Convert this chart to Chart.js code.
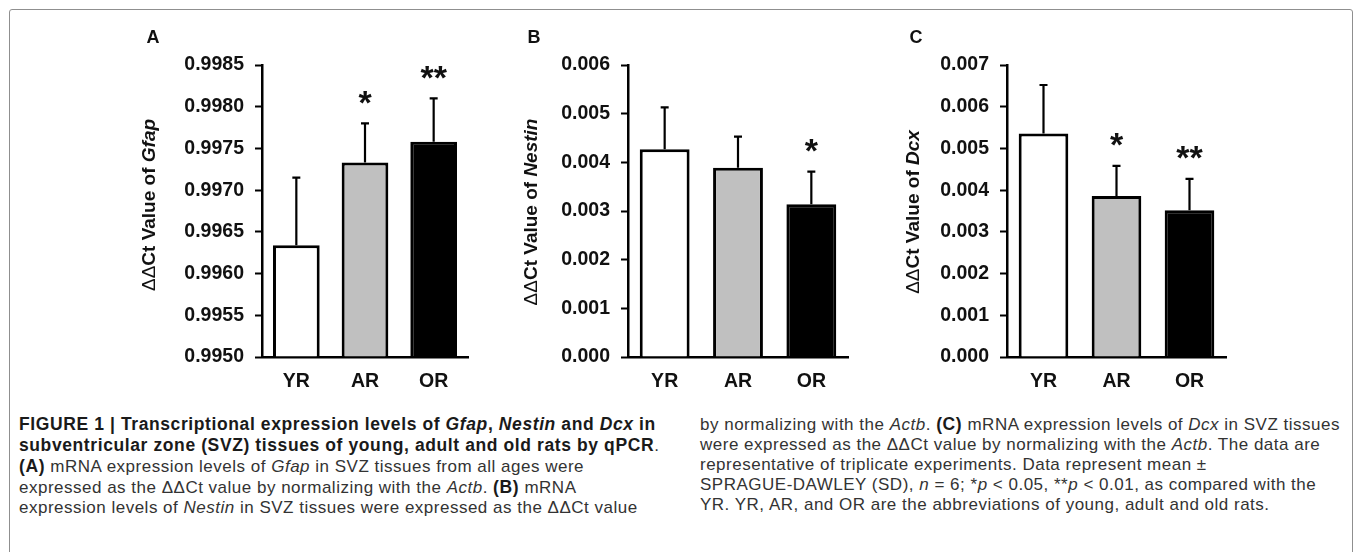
<!DOCTYPE html>
<html>
<head>
<meta charset="utf-8">
<script src="https://cdn.jsdelivr.net/npm/chart.js@4.4.0/dist/chart.umd.min.js"></script>
<style>
  html, body { margin: 0; padding: 0; background: #fff; }
  #page { position: relative; width: 1355px; height: 552px; overflow: hidden; font-family: "Liberation Sans", Arial, sans-serif; }
  #frame { position: absolute; left: 9px; top: 9px; width: 1344px; height: 620px; border: 1.5px solid #8f8f8f; border-radius: 3px; box-sizing: border-box; }
  canvas.panel { position: absolute; top: 0; }
  .cap { position: absolute; top: 414px; font-size: 17px; line-height: 20px; color: #333; white-space: nowrap; letter-spacing: 0.5px; }
  .cap b { color: #1a1a1a; font-size: 17.5px; letter-spacing: 0.6px; }
</style>
</head>
<body>
<div id="page">
  <div id="frame"></div>
  <canvas id="chartA" class="panel" width="370" height="410" style="left:120px"></canvas>
  <canvas id="chartB" class="panel" width="370" height="410" style="left:500px"></canvas>
  <canvas id="chartC" class="panel" width="370" height="410" style="left:880px"></canvas>

  <div class="cap" style="left:19px">
    <b>FIGURE 1 | Transcriptional expression levels of <i>Gfap</i>, <i>Nestin</i> and <i>Dcx</i> in</b><br>
    <b>subventricular zone (SVZ) tissues of young, adult and old rats by qPCR</b>.<br>
    <b>(A)</b> mRNA expression levels of <i>Gfap</i> in SVZ tissues from all ages were<br>
    expressed as the ΔΔCt value by normalizing with the <i>Actb</i>. <b>(B)</b> mRNA<br>
    expression levels of <i>Nestin</i> in SVZ tissues were expressed as the ΔΔCt value
  </div>
  <div class="cap" style="left:700px">
    by normalizing with the <i>Actb</i>. <b>(C)</b> mRNA expression levels of <i>Dcx</i> in SVZ tissues<br>
    were expressed as the ΔΔCt value by normalizing with the <i>Actb</i>. The data are<br>
    representative of triplicate experiments. Data represent mean ±<br>
    SPRAGUE-DAWLEY (SD), <i>n</i> = 6; *<i>p</i> &lt; 0.05, **<i>p</i> &lt; 0.01, as compared with the<br>
    YR. YR, AR, and OR are the abbreviations of young, adult and old rats.
  </div>
</div>

<script>
const FONT = '"Liberation Sans", Arial, sans-serif';

// groups and bar fills
const categories = ['YR', 'AR', 'OR'];
const barColors = ['#ffffff', '#c0c0c0', '#000000'];

// (A) Gfap
const gfapMean = [0.99634, 0.99733, 0.99758];
const gfapSD = [0.00081, 0.00047, 0.00052];
const gfapSig = ['', '*', '**'];
const gfapTicks = [0.9950, 0.9955, 0.9960, 0.9965, 0.9970, 0.9975, 0.9980, 0.9985];

// (B) Nestin
const nestinMean = [0.00427, 0.00389, 0.00314];
const nestinSD = [0.00086, 0.00064, 0.00067];
const nestinSig = ['', '', '*'];
const nestinTicks = [0.000, 0.001, 0.002, 0.003, 0.004, 0.005, 0.006];

// (C) Dcx
const dcxMean = [0.00536, 0.00386, 0.00352];
const dcxSD = [0.00116, 0.00072, 0.00075];
const dcxSig = ['', '*', '**'];
const dcxTicks = [0.000, 0.001, 0.002, 0.003, 0.004, 0.005, 0.006, 0.007];

const CANVAS_H = 410;
const BASELINE = 357;
const PLOT_TOP = 65;

// error bars, stars, panel letter and y title
function extras(p) {
  return {
    id: 'extras',
    afterDatasetsDraw(chart) {
      const ctx = chart.ctx;
      const y = chart.scales.y;
      const bars = chart.getDatasetMeta(0).data;
      ctx.save();
      ctx.strokeStyle = '#000';
      ctx.fillStyle = '#111';
      ctx.lineWidth = 2.2;
      bars.forEach((bar, i) => {
        const top = y.getPixelForValue(p.mean[i] + p.sd[i]);
        ctx.beginPath();
        ctx.moveTo(bar.x, bar.y);
        ctx.lineTo(bar.x, top);
        ctx.moveTo(bar.x - 4, top);
        ctx.lineTo(bar.x + 4, top);
        ctx.stroke();
        if (p.sig[i]) {
          ctx.font = 'bold 34px ' + FONT;
          ctx.textAlign = 'center';
          ctx.textBaseline = 'alphabetic';
          const m = ctx.measureText(p.sig[i]);
          const cy = top - 26;
          ctx.fillText(p.sig[i], bar.x, cy + (m.actualBoundingBoxAscent - m.actualBoundingBoxDescent) / 2);
        }
      });

      ctx.font = 'bold 18px ' + FONT;
      ctx.textAlign = 'center';
      ctx.textBaseline = 'middle';
      ctx.fillText(p.letter, p.letterX - p.left, 38);

      const segs = [
        { t: 'ΔΔ', f: '19px ' },
        { t: 'Ct Value of ', f: 'bold 19px ' },
        { t: p.gene, f: 'italic bold 19px ' }
      ];
      let total = 0;
      segs.forEach(s => { ctx.font = s.f + FONT; s.w = ctx.measureText(s.t).width; total += s.w; });
      ctx.translate(p.titleX - p.left, p.titleY);
      ctx.rotate(-Math.PI / 2);
      ctx.textAlign = 'left';
      let x = -total / 2;
      segs.forEach(s => { ctx.font = s.f + FONT; ctx.fillText(s.t, x, 0); x += s.w; });
      ctx.restore();
    }
  };
}

function drawPanel(id, p) {
  const W = 370;
  const tickFont = { family: FONT, size: 19.5, weight: 'bold' };
  new Chart(document.getElementById(id), {
    type: 'bar',
    data: {
      labels: categories,
      datasets: [{
        data: p.mean,
        base: p.ticks[0],
        backgroundColor: barColors,
        borderColor: '#000',
        borderWidth: 3,
        categoryPercentage: 1,
        barPercentage: 0.68
      }]
    },
    options: {
      responsive: false,
      animation: false,
      events: [],
      layout: { padding: { top: PLOT_TOP, right: p.left + W - p.areaRight, bottom: 0, left: 0 } },
      plugins: { legend: { display: false }, tooltip: { enabled: false } },
      scales: {
        x: {
          grid: { display: false, drawTicks: false },
          border: { display: true, color: '#000', width: 2.5 },
          ticks: { padding: 13, color: '#111', font: tickFont },
          afterFit: s => { s.height = CANVAS_H - BASELINE; }
        },
        y: {
          min: p.ticks[0],
          max: p.ticks[p.ticks.length - 1],
          grid: { drawOnChartArea: false, drawTicks: true, tickLength: 7, tickWidth: 2, tickColor: '#000', color: '#000' },
          border: { display: true, color: '#000', width: 2.5 },
          ticks: { padding: 11, color: '#111', font: tickFont, callback: v => Number(v).toFixed(p.digits) },
          afterBuildTicks: s => { s.ticks = p.ticks.map(v => ({ value: v })); },
          afterFit: s => { s.width = p.areaLeft - p.left; }
        }
      }
    },
    plugins: [extras(p)]
  });
}

drawPanel('chartA', { letter: 'A', gene: 'Gfap', mean: gfapMean, sd: gfapSD, sig: gfapSig, ticks: gfapTicks, digits: 4,
  left: 120, areaLeft: 262, areaRight: 468, titleX: 150, titleY: 205, letterX: 153 });
drawPanel('chartB', { letter: 'B', gene: 'Nestin', mean: nestinMean, sd: nestinSD, sig: nestinSig, ticks: nestinTicks, digits: 3,
  left: 500, areaLeft: 628, areaRight: 848, titleX: 532, titleY: 212, letterX: 534 });
drawPanel('chartC', { letter: 'C', gene: 'Dcx', mean: dcxMean, sd: dcxSD, sig: dcxSig, ticks: dcxTicks, digits: 3,
  left: 880, areaLeft: 1007, areaRight: 1226, titleX: 914, titleY: 212, letterX: 916 });
</script>
</body>
</html>
